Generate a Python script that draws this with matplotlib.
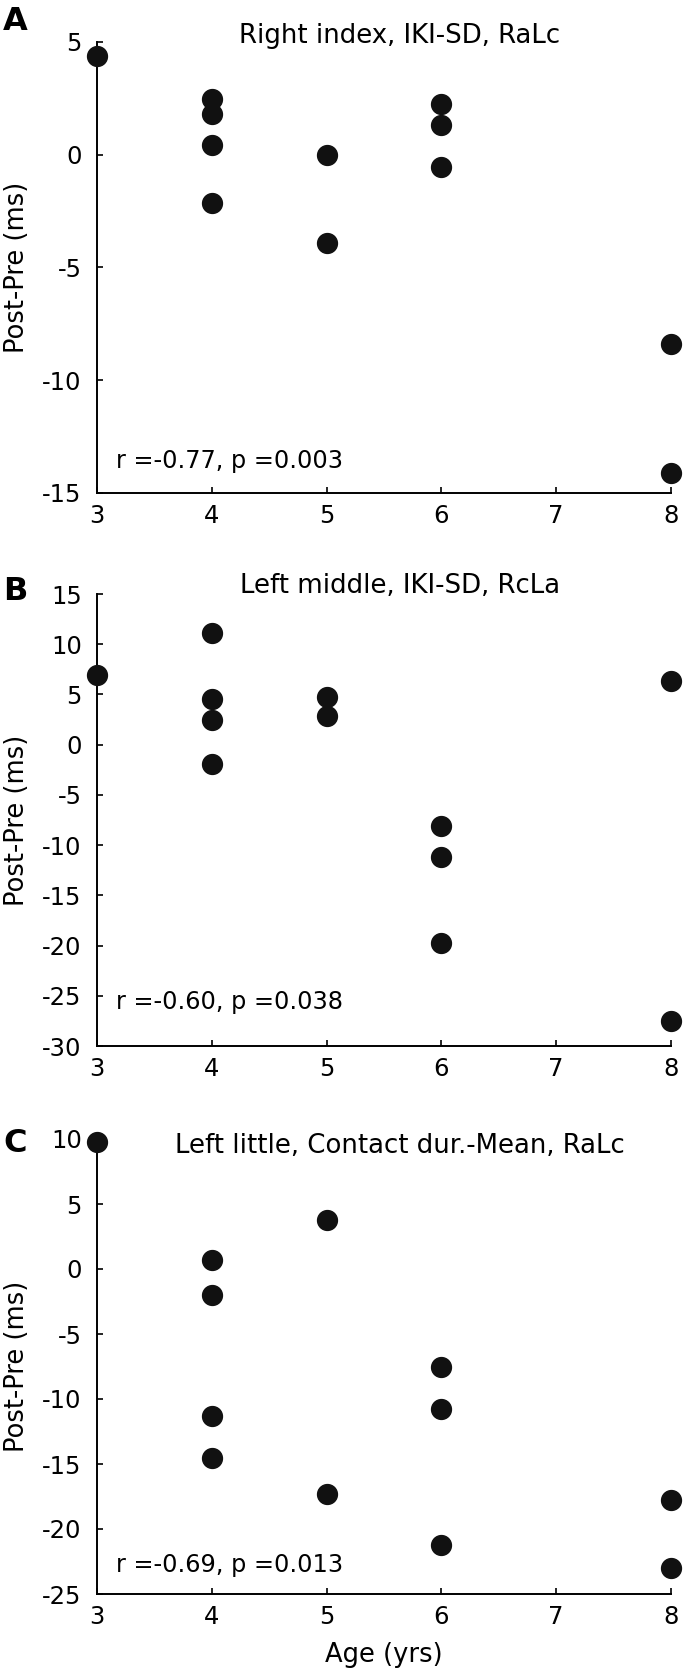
import matplotlib
matplotlib.use("Agg")
import matplotlib.pyplot as plt

plt.rcParams['font.family'] = ['DejaVu Sans']
plt.rcParams['axes.unicode_minus'] = False

# ages (yrs)
age = [3, 4, 4, 4, 4, 5, 5, 6, 6, 6, 8, 8]

# Post-Pre (ms) for each panel
post_pre_a = [4.35, 2.45, 1.8, 0.4, -2.15, 0.0, -3.9, 2.25, 1.3, -0.55, -8.4, -14.1]
post_pre_b = [6.95, 11.1, 4.5, 2.45, -1.9, 4.7, 2.85, -8.1, -11.2, -19.7, 6.3, -27.5]
post_pre_c = [9.75, 0.7, -2.0, -11.3, -14.5, 3.75, -17.3, -7.5, -10.75, -21.25, -17.75, -23.0]

letters = ['A', 'B', 'C']
titles = ['Right index, IKI-SD, RaLc',
          'Left middle, IKI-SD, RcLa',
          'Left little, Contact dur.-Mean, RaLc']
stats = ['r =-0.77, p =0.003', 'r =-0.60, p =0.038', 'r =-0.69, p =0.013']
ylims = [(-15, 5), (-30, 15), (-25, 10)]
stat_y = [-13.6, -25.6, -22.75]
xticks = [3, 4, 5, 6, 7, 8]

W, H = 685, 1670
fig = plt.figure(figsize=(W / 100, H / 100), dpi=100)

# axes boxes in pixels: (top, bottom)
boxes = [(41.7, 493), (594, 1046), (1139, 1594)]
left, right = 97, 671
title_y = [36, 586, 1146]
letter_y = [21, 592, 1143]

data = [post_pre_a, post_pre_b, post_pre_c]

for i in range(3):
    top, bot = boxes[i]
    ax = fig.add_axes([left / W, 1 - bot / H, (right - left) / W, (bot - top) / H])
    ax.plot(age, data[i], 'o', color='#111111', ms=14.3, clip_on=False, zorder=3)
    ax.set_xlim(3, 8)
    ax.set_ylim(*ylims[i])
    ax.set_xticks(xticks)
    ax.set_yticks(range(ylims[i][0], ylims[i][1] + 1, 5))
    for s in ['top', 'right']:
        ax.spines[s].set_visible(False)
    for s in ['left', 'bottom']:
        ax.spines[s].set_linewidth(1.4)
    ax.tick_params(direction='in', length=4.5, width=1.2, labelsize=17.5)
    ax.tick_params(axis='y', pad=11)
    ax.tick_params(axis='x', pad=8)
    ax.text(3.165, stat_y[i], stats[i], fontsize=17.3, va='center', ha='left')

    fig.text(400 / W, 1 - title_y[i] / H, titles[i], fontsize=18.7, ha='center', va='center')
    fig.text(15 / W, 1 - letter_y[i] / H, letters[i], fontsize=23, fontweight='bold',
             ha='center', va='center')
    fig.text(17 / W, 1 - (top + bot) / 2 / H, 'Post-Pre (ms)', fontsize=18.5,
             rotation=90, ha='center', va='center')

fig.text(384 / W, 1 - 1655 / H, 'Age (yrs)', fontsize=18.5, ha='center', va='center')

fig.savefig('out.png', dpi=100)
